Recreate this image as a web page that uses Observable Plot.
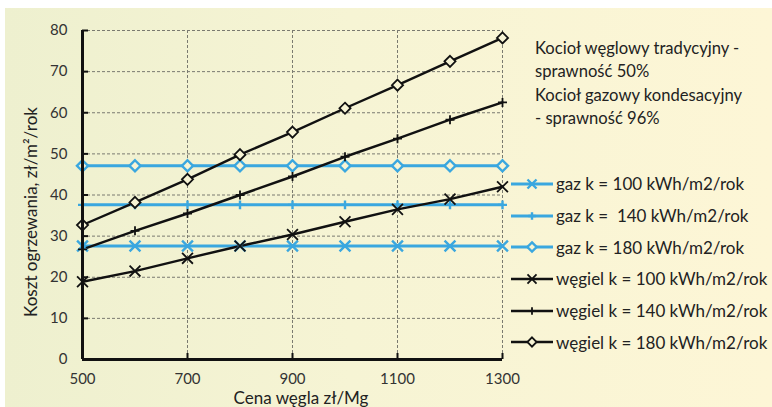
<!DOCTYPE html>
<html><head><meta charset="utf-8">
<script src="https://cdn.jsdelivr.net/npm/d3@7"></script>
<script src="https://cdn.jsdelivr.net/npm/@observablehq/plot@0.6"></script>
<style>
body{margin:0;width:772px;height:407px;overflow:hidden;background:#fff;font-family:Lato,sans-serif;position:relative}
#bg{position:absolute;left:5px;top:8px;right:0;bottom:0;background:linear-gradient(90deg,#eef0cf 0%,#f6f4d4 45%,#fdf6d6 100%)}
#chart{position:absolute;left:0;top:0}
.note{position:absolute;left:535px;top:37px;font-size:16.6px;line-height:23.3px;color:#222}
.xlabel{position:absolute;left:0;width:602px;text-align:center;top:391px;font-size:17px;line-height:14px;color:#222}
.ylabel{position:absolute;left:30px;top:212px;transform:translate(-50%,-50%) rotate(-90deg);white-space:nowrap;font-size:17px;color:#222}
.legend{position:absolute;left:510px;top:168px}
.row{display:flex;align-items:center;height:31.7px;font-size:17px;color:#222;white-space:pre}
.row svg{margin-right:2px}
</style>
</head><body>
<div id="bg"></div>
<div id="chart"></div>
<div class="note">Kocioł węglowy tradycyjny -<br>sprawność 50%<br>Kocioł gazowy kondesacyjny<br>- sprawność 96%</div>
<div class="xlabel">Cena węgla zł/Mg</div>
<div class="ylabel">Koszt ogrzewania, zł/m²/rok</div>
<div class="legend" id="legend"></div>
<script>
const prices = [500, 600, 700, 800, 900, 1000, 1100, 1200, 1300];
const gaz100 = [27.6, 27.6, 27.6, 27.6, 27.6, 27.6, 27.6, 27.6, 27.6];
const gaz140 = [37.6, 37.6, 37.6, 37.6, 37.6, 37.6, 37.6, 37.6, 37.6];
const gaz180 = [47.1, 47.1, 47.1, 47.1, 47.1, 47.1, 47.1, 47.1, 47.1];
const wegiel100 = [18.9, 21.5, 24.6, 27.6, 30.4, 33.5, 36.5, 39.0, 42.0];
const wegiel140 = [26.8, 31.3, 35.5, 40.0, 44.5, 49.3, 53.7, 58.3, 62.5];
const wegiel180 = [32.7, 38.2, 43.8, 49.8, 55.3, 61.1, 66.7, 72.5, 78.2];
const seriesNames = ["gaz k = 100 kWh/m2/rok", "gaz k =  140 kWh/m2/rok", "gaz k = 180 kWh/m2/rok",
  "węgiel k = 100 kWh/m2/rok", "węgiel k = 140 kWh/m2/rok", "węgiel k = 180 kWh/m2/rok"];
const seriesValues = [gaz100, gaz140, gaz180, wegiel100, wegiel140, wegiel180];
const xTicks = [500, 700, 900, 1100, 1300];
const yTicks = [0, 10, 20, 30, 40, 50, 60, 70, 80];

const BLUE = "#3aa7df", BLACK = "#111";
const BG = "#f7f4d5";
const styleOf = i => ({
  color: i < 3 ? BLUE : BLACK,
  width: i < 3 ? 3 : 2.4,
  symbol: ["times", "plus", "diamond2"][i % 3],
  r: [5, 3, 5][i % 3],
  markerWidth: i < 3 ? 2.4 : 1.8
});

const series = seriesNames.map((name, i) => prices.map((p, j) => ({series: name, x: p, y: seriesValues[i][j]})));

const marks = [
  Plot.gridY(yTicks, {stroke: "#7a7a70", strokeOpacity: 1, strokeDasharray: "3,2", strokeWidth: 1}),
  Plot.gridX(xTicks, {stroke: "#7a7a70", strokeOpacity: 1, strokeDasharray: "3,2", strokeWidth: 1}),
];
series.forEach((data, i) => {
  const s = styleOf(i);
  marks.push(Plot.line(data, {x: "x", y: "y", stroke: s.color, strokeWidth: s.width}));
});
series.forEach((data, i) => {
  const s = styleOf(i);
  marks.push(Plot.dot(data, {x: "x", y: "y", symbol: () => s.symbol, r: s.r, stroke: s.color,
    strokeWidth: s.markerWidth, fill: s.symbol === "diamond2" ? BG : null}));
});
marks.push(
  Plot.axisY(yTicks, {tickSize: -6, tickPadding: 21, fontSize: 15, color: "#333", stroke: BLACK, strokeWidth: 2, label: null, tickFormat: d => String(d)}),
  Plot.axisX(xTicks, {tickSize: -6, tickPadding: 20, fontSize: 15, color: "#333", stroke: BLACK, strokeWidth: 2, label: null, tickFormat: d => String(d)}),
  Plot.ruleX([500], {stroke: BLACK, strokeWidth: 3}),
  Plot.ruleY([0], {stroke: BLACK, strokeWidth: 3})
);

const chart = Plot.plot({
  width: 772, height: 407,
  marginLeft: 82, marginRight: 270, marginTop: 30, marginBottom: 48,
  x: {domain: [500, 1300]},
  y: {domain: [0, 80]},
  style: {background: "transparent", fontFamily: "Lato, sans-serif", overflow: "visible"},
  marks
});
document.getElementById("chart").append(chart);

// legend
const leg = document.getElementById("legend");
seriesNames.forEach((name, i) => {
  const s = styleOf(i);
  const row = document.createElement("div");
  row.className = "row";
  const svg = d3.create("svg").attr("width", 44).attr("height", 14);
  svg.append("line").attr("x1", 1).attr("x2", 43).attr("y1", 7).attr("y2", 7)
    .attr("stroke", s.color).attr("stroke-width", s.width);
  const sym = {times: d3.symbolTimes, plus: d3.symbolPlus, diamond2: d3.symbolDiamond2}[s.symbol];
  svg.append("path").attr("transform", "translate(22,7)")
    .attr("d", d3.symbol(sym, Math.PI * s.r * s.r * 0.7)())
    .attr("fill", s.symbol === "diamond2" ? BG : "none")
    .attr("stroke", s.color).attr("stroke-width", s.markerWidth);
  row.append(svg.node());
  const t = document.createElement("span");
  t.textContent = name;
  row.append(t);
  leg.append(row);
});
</script>
</body></html>
